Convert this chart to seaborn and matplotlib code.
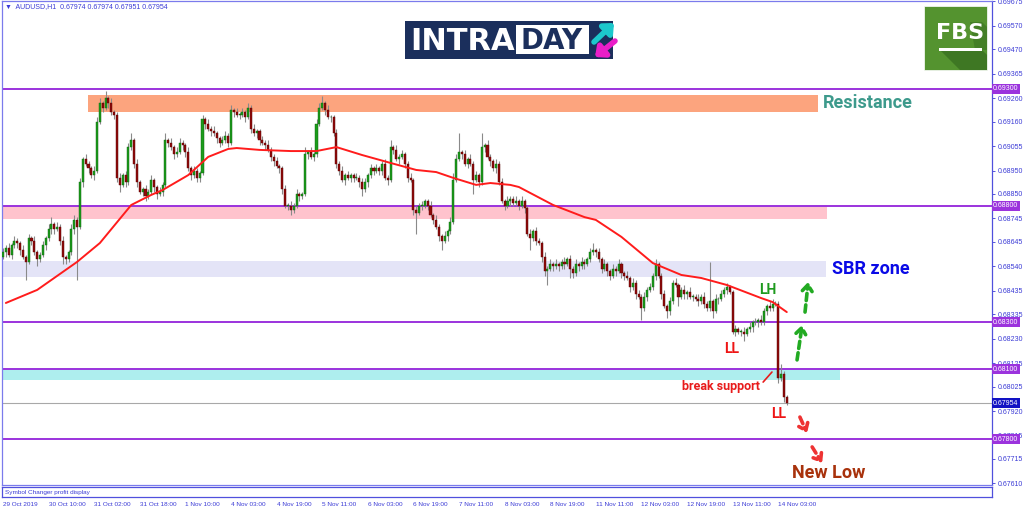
import matplotlib
matplotlib.use("Agg")
import matplotlib.pyplot as plt
from matplotlib.patches import Rectangle, Polygon
import seaborn as sns
import numpy as np

# ---- data (AUDUSD H1) ----
first_open = 0.6858
close = [
    0.6860, 0.6862, 0.6859, 0.6863, 0.6865, 0.6864, 0.6861, 0.6858, 0.6856, 0.6866,
    0.6865, 0.6860, 0.6857, 0.6859, 0.6863, 0.6866, 0.6870, 0.6872, 0.6870, 0.6871,
    0.6865, 0.6858, 0.6857, 0.6860, 0.6870, 0.6874, 0.6871, 0.6890,
    0.6900, 0.6898, 0.6896, 0.6893, 0.6895, 0.6916, 0.6924, 0.6922, 0.6926, 0.6924, 0.6920, 0.6919,
    0.6892, 0.6889, 0.6893, 0.6890, 0.6905, 0.6908, 0.6898, 0.6890, 0.6886, 0.6887,
    0.6884, 0.6886, 0.6891, 0.6888, 0.6885, 0.6886, 0.6889,
    0.6908, 0.6907, 0.6905, 0.6902, 0.6903, 0.6907, 0.6906, 0.6903, 0.6896, 0.6893,
    0.6895, 0.6892, 0.6894, 0.6917, 0.6915, 0.6913, 0.6912, 0.6911, 0.6909, 0.6907,
    0.6908, 0.6910, 0.6907, 0.6921, 0.6920, 0.6919, 0.6919, 0.6920, 0.6918, 0.6922,
    0.6913, 0.6911, 0.6912, 0.6908,
    0.6907, 0.6906, 0.6904, 0.6901, 0.6899, 0.6897, 0.6896, 0.6887, 0.6880, 0.6880,
    0.6878, 0.6880, 0.6885, 0.6884, 0.6885, 0.6902, 0.6903, 0.6901, 0.6902, 0.6915,
    0.6922, 0.6924, 0.6921, 0.6918, 0.6918, 0.6911, 0.6898, 0.6895, 0.6891, 0.6893,
    0.6892, 0.6893, 0.6892, 0.6892, 0.6890, 0.6887, 0.6890, 0.6893, 0.6896, 0.6895,
    0.6896, 0.6895, 0.6898, 0.6892, 0.6891, 0.6905, 0.6904, 0.6900, 0.6901, 0.6902,
    0.6898, 0.6892, 0.6891, 0.6878, 0.6877, 0.6880, 0.6880, 0.6882, 0.6880, 0.6876,
    0.6874, 0.6871, 0.6867, 0.6865, 0.6867, 0.6869, 0.6873, 0.6891, 0.6900, 0.6903,
    0.6902, 0.6898, 0.6900, 0.6898, 0.6891, 0.6893, 0.6890, 0.6905, 0.6906, 0.6901,
    0.6899, 0.6896, 0.6898, 0.6890, 0.6882, 0.6880,
    0.6882, 0.6883, 0.6881, 0.6882, 0.6880, 0.6882, 0.6879, 0.6868, 0.6866, 0.6869,
    0.6865, 0.6864, 0.6858, 0.6852, 0.6853, 0.6855, 0.6854, 0.6855, 0.6854, 0.6856,
    0.6855, 0.6857, 0.6853, 0.6851, 0.6855, 0.6854, 0.6856, 0.6855, 0.6857, 0.6860,
    0.6861, 0.6860, 0.6857, 0.6853, 0.6855, 0.6852, 0.6850, 0.6853, 0.6852, 0.6855,
    0.6851, 0.6850, 0.6849, 0.6845, 0.6847, 0.6842, 0.6841, 0.6836, 0.6841, 0.6844,
    0.6845, 0.6850, 0.6855, 0.6850, 0.6842, 0.6837, 0.6835, 0.6839, 0.6847, 0.6846,
    0.6841, 0.6844, 0.6842, 0.6843, 0.6841, 0.6841, 0.6840, 0.6839, 0.6841, 0.6838,
    0.6836, 0.6839, 0.6835, 0.6840, 0.6840, 0.6842, 0.6844, 0.6845, 0.6843,
    0.6826, 0.6827, 0.6826, 0.6826, 0.6825, 0.6827, 0.6828, 0.6830, 0.6830, 0.6831,
    0.6830, 0.6835, 0.6837, 0.6836, 0.6838, 0.6838, 0.6806, 0.6808, 0.6798, 0.67954,
]
# wick lengths above / below the body, in pips
upper_wick = [
    2, 1, 2, 1, 2, 1, 1, 2, 1, 2, 1, 2, 1, 1, 2, 1, 2, 3, 1, 2,
    1, 2, 1, 1, 2, 2, 1, 2, 1, 2, 1, 1, 2, 2, 2, 1, 3, 1, 2, 1,
    1, 2, 1, 2, 2, 3, 1, 2, 1, 1, 2, 1, 2, 1, 1, 2, 1, 3, 1, 2,
    1, 2, 2, 1, 1, 2, 1, 2, 1, 1, 2, 1, 2, 1, 2, 1, 1, 2, 2, 1,
    2, 1, 2, 1, 2, 1, 2, 1, 2, 1, 1, 2, 1, 2, 1, 1, 2, 1, 1, 2,
    1, 2, 1, 2, 1, 1, 3, 1, 2, 1, 2, 2, 3, 1, 2, 1, 1, 2, 1, 2,
    1, 2, 1, 1, 2, 1, 2, 2, 1, 2, 1, 2, 1, 1, 2, 1, 3, 1, 2, 1,
    2, 1, 1, 2, 1, 2, 1, 2, 1, 1, 2, 1, 2, 1, 1, 2, 1, 2, 3, 2,
    8, 1, 2, 1, 2, 1, 2, 1, 6, 1, 2, 1, 1, 2, 1, 2, 1, 2, 1, 1,
    2, 1, 2, 1, 1, 2, 1, 2, 1, 1, 2, 1, 2, 1, 2, 1, 1, 2, 1, 2,
    1, 2, 1, 2, 1, 1, 2, 3, 1, 2, 1, 2, 1, 1, 2, 1, 2, 1, 1, 2,
    1, 2, 1, 2, 1, 2, 1, 2, 1, 2, 1, 1, 2, 1, 2, 1, 2, 1, 1, 2,
    1, 2, 1, 1, 2, 1, 2, 1, 17, 1, 2, 1, 2, 1, 2, 1, 1, 2, 1, 1,
    2, 1, 2, 1, 2, 1, 2, 1, 1, 2, 2, 1, 1, 4, 1, 1,
]
lower_wick = [
    1, 2, 1, 2, 1, 2, 2, 1, 8, 1, 2, 1, 3, 1, 1, 2, 1, 2, 2, 1,
    2, 3, 2, 1, 1, 2, 23, 1, 2, 1, 2, 1, 2, 1, 1, 2, 1, 2, 1, 2,
    2, 3, 1, 2, 1, 1, 2, 2, 1, 2, 2, 1, 1, 2, 2, 1, 2, 1, 2, 1,
    2, 1, 1, 2, 2, 1, 2, 1, 2, 2, 1, 2, 1, 2, 1, 2, 2, 1, 1, 2,
    1, 2, 1, 2, 1, 2, 1, 2, 1, 2, 2, 1, 2, 1, 2, 2, 1, 2, 2, 1,
    2, 2, 1, 1, 2, 1, 1, 2, 1, 2, 1, 1, 1, 2, 1, 2, 1, 2, 2, 1,
    2, 1, 2, 2, 1, 2, 3, 1, 2, 1, 2, 1, 2, 2, 1, 2, 1, 2, 1, 2,
    1, 2, 2, 1, 2, 9, 1, 2, 1, 2, 1, 2, 1, 2, 4, 1, 2, 1, 1, 1,
    1, 2, 1, 2, 1, 6, 1, 2, 1, 2, 1, 2, 1, 2, 1, 1, 2, 1, 2, 1,
    1, 2, 1, 2, 1, 5, 1, 2, 1, 2, 2, 6, 1, 2, 1, 2, 1, 2, 1, 4,
    2, 1, 2, 1, 2, 1, 1, 1, 2, 1, 2, 1, 2, 2, 1, 2, 1, 2, 2, 1,
    2, 1, 2, 1, 5, 1, 2, 1, 1, 2, 1, 2, 1, 3, 2, 1, 1, 4, 1, 2,
    2, 1, 2, 1, 2, 1, 2, 1, 1, 3, 1, 2, 1, 1, 2, 1, 1, 2, 1, 2,
    3, 1, 1, 2, 1, 2, 1, 1, 2, 1, 1, 1, 2, 1, 2, 1,
]
# moving average (red line), sampled at bar indices
ma_bar = [1, 12, 26, 34, 45, 52, 56, 65, 72, 79, 82, 90, 101, 110, 117, 126, 136, 145,
          152, 158, 166, 171, 178, 181, 193, 204, 208, 217, 228, 238, 245, 254, 266, 270, 275]
ma_price = [0.68383, 0.68439, 0.68559, 0.68640, 0.68803, 0.68846, 0.68867, 0.68931, 0.69009,
            0.69043, 0.69047, 0.69039, 0.69034, 0.69034, 0.69051, 0.69017, 0.68983, 0.68953,
            0.68944, 0.68919, 0.68889, 0.68897, 0.68889, 0.68880, 0.68803, 0.68751, 0.68739,
            0.68666, 0.68554, 0.68503, 0.68490, 0.68460, 0.68404, 0.68387, 0.68344]

levels = [0.6930, 0.6880, 0.6830, 0.6810, 0.6780]
last_price = 0.67954
# zones: (start bar, end bar, low, high, colour)
zones = [
    (29.8, 286.0, 0.69201, 0.69274, '#fca47e'),   # resistance
    (-0.4, 289.0, 0.68744, 0.68800, '#ffc3cd'),   # pink
    (-0.4, 288.8, 0.68494, 0.68564, '#e4e4f7'),   # SBR zone
    (-0.4, 293.6, 0.68053, 0.68100, '#aeeeee'),   # cyan support
]
x_labels = ['29 Oct 2019', '30 Oct 10:00', '31 Oct 02:00', '31 Oct 18:00', '1 Nov 10:00',
            '4 Nov 03:00', '4 Nov 19:00', '5 Nov 11:00', '6 Nov 03:00', '6 Nov 19:00',
            '7 Nov 11:00', '8 Nov 03:00', '8 Nov 19:00', '11 Nov 11:00', '12 Nov 03:00',
            '12 Nov 19:00', '13 Nov 11:00', '14 Nov 03:00']
y_ticks = [0.69675, 0.69570, 0.69470, 0.69365, 0.69260, 0.69160, 0.69055, 0.68950,
           0.68850, 0.68745, 0.68645, 0.68540, 0.68435, 0.68335, 0.68230, 0.68125,
           0.68025, 0.67920, 0.67815, 0.67715, 0.67610]

sns.set_style("white")
plt.rcParams['font.family'] = ['Liberation Sans', 'DejaVu Sans']

AX_BLUE = '#3b3bd6'
PURPLE = '#9b33dd'

close = np.array(close)
openp = np.concatenate([[first_open], close[:-1]])
pip = 0.0001
high = np.maximum(openp, close) + np.array(upper_wick) * pip
low = np.minimum(openp, close) - np.array(lower_wick) * pip
bars = np.arange(len(close))
up = close >= openp

fig = plt.figure(figsize=(10.24, 5.11), dpi=100)
ax = fig.add_axes([2 / 1024, 1 - 485 / 511, 990 / 1024, 484 / 511])
ax.set_xlim(-0.35, 347.0)
ax.set_ylim(0.676029, 0.696771)

# zones
for x0, x1, y0, y1, col in zones:
    ax.fill_between([x0, x1], [y0, y0], [y1, y1], color=col, lw=0, zorder=1)

# levels
for lv in levels:
    ax.axhline(lv, color=PURPLE, lw=1.4, zorder=2)
ax.axhline(last_price, color='#a8a8a8', lw=0.8, zorder=2)

# candles
ax.vlines(bars, low, high, color='#8a8a8a', lw=0.8, zorder=3)
body = np.maximum(np.abs(close - openp), 0.00002)
ax.bar(bars[up], body[up], bottom=openp[up], width=0.72, color='#1c9c1c',
       edgecolor='#0d620d', lw=0.3, zorder=4)
ax.bar(bars[~up], body[~up], bottom=close[~up], width=0.72, color='#8e0b0b',
       edgecolor='#5a0000', lw=0.3, zorder=4)

# moving average
sns.lineplot(x=ma_bar, y=ma_price, color='#ff1c1c', lw=1.4, ax=ax, zorder=5)

# right price axis
ax.yaxis.tick_right()
ax.set_yticks(y_ticks)
ax.set_yticklabels([f"{t:.5f}" for t in y_ticks])
ax.tick_params(axis='y', length=2.5, width=0.6, colors=AX_BLUE, labelsize=5, pad=1.5)
ax.tick_params(axis='x', bottom=False, labelbottom=False)
ax.set_xlabel('')
ax.set_ylabel('')
for lv in levels:
    ax.text(1.001, lv, f"{lv:.5f}", transform=ax.get_yaxis_transform(), ha='left',
            va='center', fontsize=5, color='white', zorder=10, clip_on=False,
            bbox=dict(boxstyle='square,pad=0.2', fc=PURPLE, ec='none'))
ax.text(1.001, last_price, f"{last_price:.5f}", transform=ax.get_yaxis_transform(),
        ha='left', va='center', fontsize=5, color='white', zorder=10, clip_on=False,
        bbox=dict(boxstyle='square,pad=0.2', fc='#1212c4', ec='none'))
for s in ax.spines.values():
    s.set_color('#7b7bec')
    s.set_linewidth(0.9)
ax.spines['right'].set_color('#5050dd')

ax.text(0.003, 0.988, "\u25bc  AUDUSD,H1  0.67974 0.67974 0.67951 0.67954",
        transform=ax.transAxes, fontsize=5, color=AX_BLUE, va='center', ha='left',
        family=['DejaVu Sans'] if False else ['Liberation Sans', 'DejaVu Sans'])

# sub window with time axis
sub = fig.add_axes([2 / 1024, 1 - 497 / 511, 990 / 1024, 10 / 511])
sub.set_xlim(-0.35, 347.0)
sub.set_yticks([])
sub.set_xticks(np.arange(0, 16 * len(x_labels), 16))
sub.set_xticklabels(x_labels)
for lab in sub.get_xticklabels():
    lab.set_ha('left')
sub.tick_params(axis='x', length=2.5, width=0.6, colors=AX_BLUE, labelsize=4.6, pad=1)
for s in sub.spines.values():
    s.set_color('#5050dd')
    s.set_linewidth(0.9)
sub.text(0.003, 0.45, "Symbol Changer profit display", transform=sub.transAxes,
         fontsize=4.6, color=AX_BLUE, va='center', ha='left')

# annotations
bold = dict(family=['Roboto', 'DejaVu Sans'], fontweight='bold')
ax.text(287.7, 0.69240, "Resistance", color='#3d9a8c', fontsize=13, va='center', ha='left', **bold)
ax.text(290.9, 0.68529, "SBR zone", color='#0a0ae6', fontsize=13, va='center', ha='left', **bold)
ax.text(268.4, 0.68439, "LH", color='#1e9a1e', fontsize=10, va='center', ha='center', **bold)
ax.text(255.8, 0.68186, "LL", color='#ee1515', fontsize=10, va='center', ha='center', **bold)
ax.text(272.3, 0.67907, "LL", color='#ee1515', fontsize=10, va='center', ha='center', **bold)
ax.text(265.6, 0.68023, "break support", color='#e81c1c', fontsize=9, va='center', ha='right', **bold)
ax.text(276.8, 0.67654, "New Low", color='#a8320c', fontsize=13, va='center', ha='left', **bold)
ax.plot([266.7, 269.8], [0.68044, 0.68087], color='#e81c1c', lw=1.2, zorder=6)

green_arrows = [((278.6, 0.68139), (280.4, 0.68289)), ((281.4, 0.68344), (282.5, 0.68473))]
red_arrows = [((279.6, 0.67894), (282.1, 0.67826)), ((283.9, 0.67766), (287.4, 0.67697))]
for (p0, p1), col in [(a, '#22aa22') for a in green_arrows] + [(a, '#ee3333') for a in red_arrows]:
    ax.annotate('', xy=p1, xytext=p0,
                arrowprops=dict(arrowstyle='->,head_width=0.35,head_length=0.45',
                                color=col, lw=2.6, linestyle=(0, (2, 1.2)),
                                shrinkA=0, shrinkB=0))

# logos in pixel space
ov = fig.add_axes([0, 0, 1, 1], zorder=10)
ov.set_xlim(0, 1024)
ov.set_ylim(511, 0)
ov.axis('off')
ov.patch.set_alpha(0)
NAVY = '#1b2f5c'
logo_font = ['DejaVu Sans']
ov.add_patch(Rectangle((405, 21), 208, 38, fc=NAVY, ec='none'))
ov.add_patch(Rectangle((516, 25), 73, 29, fc='white', ec='none'))
ov.text(410, 41, "INTRA", color='white', fontsize=22, fontweight='bold', va='center', ha='left',
        family=logo_font)
ov.text(552, 41, "DAY", color=NAVY, fontsize=20, fontweight='bold', va='center', ha='center',
        family=logo_font)
ov.annotate('', xy=(614, 23), xytext=(594, 42),
            arrowprops=dict(arrowstyle='-|>,head_width=0.45,head_length=0.5', color='#1cc8cc', lw=4,
                            shrinkA=0, shrinkB=0))
ov.annotate('', xy=(595, 57), xytext=(615, 41),
            arrowprops=dict(arrowstyle='-|>,head_width=0.45,head_length=0.5', color='#ea1ec9', lw=4,
                            shrinkA=0, shrinkB=0))

ov.add_patch(Rectangle((924, 6), 63, 64, fc='#54932f', ec='#ffffff', lw=0.5))
ov.add_patch(Polygon([(940, 50), (982, 50), (987, 55), (987, 70), (960, 70)], fc='#3e7723', ec='none'))
ov.add_patch(Polygon([(970, 22), (982, 22), (987, 27), (987, 50), (975, 50)], fc='#447f27', ec='none'))
ov.text(960, 33, "FBS", color='white', fontsize=16, fontweight='bold', va='center', ha='center',
        family=logo_font)
ov.add_patch(Rectangle((939, 48), 43, 3, fc='white', ec='none'))

fig.savefig("out.png", dpi=100)
